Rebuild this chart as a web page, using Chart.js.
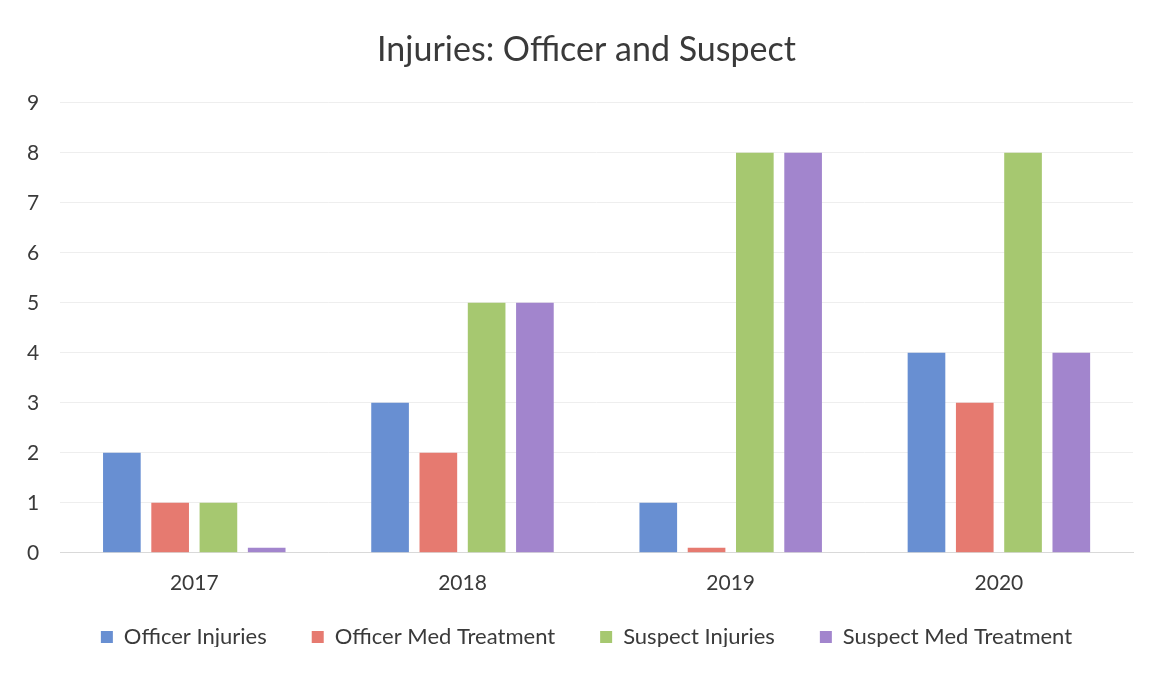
<!DOCTYPE html>
<html>
<head>
<meta charset="utf-8">
<script src="https://cdn.jsdelivr.net/npm/chart.js@4"></script>
<style>
  html, body { margin: 0; padding: 0; background: #fff; }
  #wrap { width: 1154px; height: 673px; position: relative; }
</style>
</head>
<body>
<div id="wrap"><canvas id="injuries-chart"></canvas></div>
<script>
var years = ['2017', '2018', '2019', '2020'];
var officerInjuries = [2, 3, 1, 4];
var officerMedTreatment = [1, 2, 0.1, 3];
var suspectInjuries = [1, 5, 8, 8];
var suspectMedTreatment = [0.1, 5, 8, 4];
var yTicks = [0, 1, 2, 3, 4, 5, 6, 7, 8, 9];

var ctx = document.getElementById('injuries-chart');

// legend sits closer to the axis labels than chart.js would put it,
// and title + legend are centred a bit right of the canvas centre
var boxShift = {
  id: 'boxShift',
  beforeLayout: function (chart) {
    var legend = chart.legend;
    if (legend && !legend._shrunk) {
      var fit = legend.fit;
      legend.fit = function () {
        fit.call(this);
        this.height -= 11;
      };
      legend._shrunk = true;
    }
  },
  afterLayout: function (chart) {
    chart.legend.top -= 25;
    chart.legend.bottom -= 25;
    chart.legend.left += 17;
    chart.legend.right += 17;
    chart.titleBlock.left += 17;
    chart.titleBlock.right += 17;
  }
};

var data = {
  labels: years,
  datasets: [{
    label: 'Officer Injuries',
    data: officerInjuries,
    backgroundColor: 'rgb(104, 143, 210)'
  }, {
    label: 'Officer Med Treatment',
    data: officerMedTreatment,
    backgroundColor: 'rgb(230, 122, 112)'
  }, {
    label: 'Suspect Injuries',
    data: suspectInjuries,
    backgroundColor: 'rgb(166, 200, 112)'
  }, {
    label: 'Suspect Med Treatment',
    data: suspectMedTreatment,
    backgroundColor: 'rgb(162, 133, 205)'
  }]
};

var config = {
  type: 'bar',
  data: data,
  options: {
    responsive: true,
    maintainAspectRatio: false,
    animation: false,
    layout: { padding: { left: 6, right: 21, top: 18, bottom: 1 } },
    datasets: {
      bar: { barPercentage: 0.78, categoryPercentage: 0.72 }
    },
    plugins: {
      title: {
        display: true,
        text: 'Injuries: Officer and Suspect',
        color: '#3a3a3a',
        font: { family: 'Lato', size: 34, weight: 'normal' },
        padding: { top: 12, bottom: 32 }
      },
      legend: {
        position: 'bottom',
        labels: {
          color: '#3a3a3a',
          font: { family: 'Lato', size: 22 },
          boxWidth: 12,
          boxHeight: 12,
          padding: 45
        }
      },
      tooltip: { enabled: false }
    },
    scales: {
      x: {
        grid: { display: false },
        border: { color: '#d9d9d9' },
        ticks: {
          color: '#3a3a3a',
          font: { family: 'Lato', size: 21 },
          padding: 10
        }
      },
      y: {
        min: 0,
        max: 9,
        afterBuildTicks: function (axis) {
          axis.ticks = yTicks.map(function (v) { return { value: v }; });
        },
        grid: { color: '#eeeeee', drawTicks: false },
        border: { display: false },
        ticks: {
          color: '#3a3a3a',
          font: { family: 'Lato', size: 21 },
          padding: 21
        }
      }
    }
  },
  plugins: [boxShift]
};

new Chart(ctx, config);
</script>
</body>
</html>
